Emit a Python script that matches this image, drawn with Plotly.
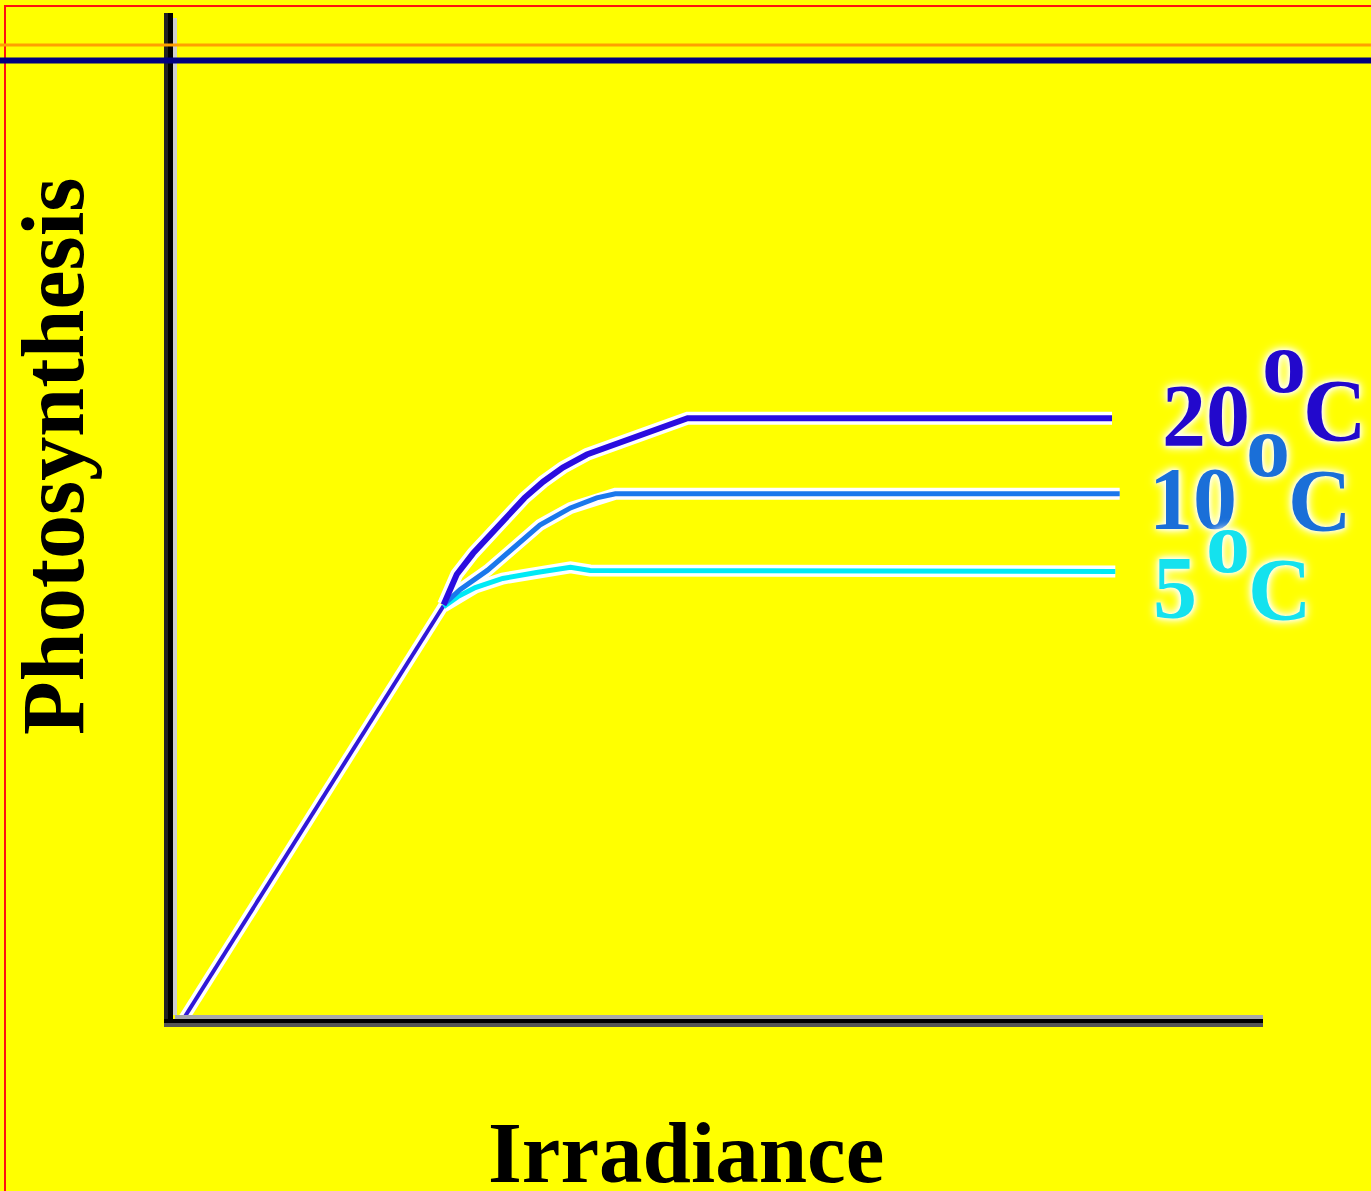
import plotly.graph_objects as go

# ---------------- data (arbitrary units, axes 0-100) ----------------
irr_linear = [1.2, 25.1]
ps_linear = [0.0, 41.2]

irr_20 = [25.1, 26.3, 27.8, 29.3, 30.9, 32.5, 34.2, 36.0, 38.2, 40.0, 43.1, 45.3, 47.4, 86.2]
ps_20 = [41.3, 44.3, 46.4, 48.2, 50.1, 51.9, 53.5, 54.9, 56.2, 56.9, 58.2, 59.1, 59.8, 59.8]

irr_10 = [25.1, 26.6, 29.1, 31.8, 33.9, 36.7, 39.1, 40.8, 86.9]
ps_10 = [41.3, 42.8, 44.7, 47.2, 49.2, 50.9, 51.9, 52.3, 52.3]

irr_5 = [25.1, 26.4, 28.0, 30.5, 33.6, 36.7, 38.5, 86.5]
ps_5 = [41.1, 42.1, 43.0, 43.9, 44.5, 45.0, 44.7, 44.6]

temps = ["20", "10", "5"]
x_title = "Irradiance"
y_title = "Photosynthesis"

# ---------------- geometry ----------------
W, H = 1371, 1191
X0_PX, X_SCALE = 169, 10.94
Y0_PX, Y_SCALE = 1021, 10.08
x_range = [(0 - X0_PX) / X_SCALE, (W - X0_PX) / X_SCALE]
y_range = [(Y0_PX - H) / Y_SCALE, Y0_PX / Y_SCALE]


def dx(px):
    return (px - X0_PX) / X_SCALE


def dy(py):
    return (Y0_PX - py) / Y_SCALE


def pxp(px):
    return px / W


def pyp(py):
    return 1 - py / H


SERIF = "Liberation Serif, Times New Roman, serif"
col20, col10, col5 = "#2a0ce0", "#1a78ec", "#00eaf5"
txt20, txt10, txt5 = "#2208cc", "#1a6fd8", "#14e2ee"
col_lin = "#3018d8"

fig = go.Figure()

series = [
    (irr_5, ps_5, col5, 5),
    (irr_10, ps_10, col10, 5),
    (irr_20, ps_20, col20, 6),
]

# white halos
fig.add_trace(go.Scatter(x=irr_linear, y=ps_linear, mode="lines",
                         line=dict(color="white", width=11),
                         hoverinfo="skip", showlegend=False))
for xs, ys, c, w in series:
    fig.add_trace(go.Scatter(x=xs, y=ys, mode="lines",
                             line=dict(color="white", width=w + 7),
                             hoverinfo="skip", showlegend=False))

fig.add_trace(go.Scatter(x=irr_linear, y=ps_linear, mode="lines",
                         line=dict(color=col_lin, width=4),
                         showlegend=False))
for (xs, ys, c, w), t in zip(series, ["5", "10", "20"]):
    fig.add_trace(go.Scatter(x=xs, y=ys, mode="lines", name=t + "°C",
                             line=dict(color=c, width=w),
                             showlegend=False))

shapes = []
# axes
shapes.append(dict(type="line", xref="x", yref="y", x0=dx(175), x1=dx(175), y0=dy(1015), y1=dy(18),
                   line=dict(color="#cfcfcf", width=4)))
shapes.append(dict(type="line", xref="x", yref="y", x0=dx(166), x1=dx(166), y0=dy(1027), y1=dy(13),
                   line=dict(color="#222222", width=4)))
shapes.append(dict(type="line", xref="x", yref="y", x0=dx(170.5), x1=dx(170.5), y0=dy(1027), y1=dy(13),
                   line=dict(color="#000000", width=5)))
shapes.append(dict(type="line", xref="x", yref="y", x0=dx(175), x1=dx(1263), y0=dy(1017), y1=dy(1017),
                   line=dict(color="#a8a8a8", width=4)))
shapes.append(dict(type="line", xref="x", yref="y", x0=dx(164), x1=dx(1263), y0=dy(1021), y1=dy(1021),
                   line=dict(color="#000000", width=4)))
shapes.append(dict(type="line", xref="x", yref="y", x0=dx(164), x1=dx(1263), y0=dy(1025), y1=dy(1025),
                   line=dict(color="#555555", width=4)))

# frame decorations (drawn over the axis, as in the original)
shapes.append(dict(type="rect", xref="paper", yref="paper",
                   x0=pxp(5), x1=pxp(W + 5), y0=pyp(H + 5), y1=pyp(6),
                   line=dict(color="#ff1010", width=2), fillcolor="rgba(0,0,0,0)", layer="above"))
shapes.append(dict(type="line", xref="paper", yref="paper", x0=0, x1=1, y0=pyp(45), y1=pyp(45),
                   line=dict(color="#ffa000", width=3), layer="above"))
shapes.append(dict(type="line", xref="paper", yref="paper", x0=0, x1=1, y0=pyp(60.5), y1=pyp(60.5),
                   line=dict(color="#000080", width=6), layer="above"))

annotations = []
FS = 88
halo = "0px 0px 4px #ffffff, 0px 0px 8px #ffffff, 0px 0px 12px #ffffff"


def piece(text, origin_px, baseline_py, color, size=FS, shadow=halo):
    annotations.append(dict(
        text=text, xref="paper", yref="paper",
        x=pxp(origin_px), y=pyp(baseline_py - 0.3375 * size),
        xanchor="left", yanchor="middle", showarrow=False, borderpad=0,
        font=dict(family=SERIF, size=size, color=color, weight="bold", shadow=shadow)))


labels = [
    (temps[0], txt20, [(1161, 445), (1261, 392), (1302, 440)]),
    (temps[1], txt10, [(1148, 528), (1245, 476), (1287, 530)]),
    (temps[2], txt5, [(1152, 617), (1205, 572), (1247, 619)]),
]
for num, color, pos in labels:
    for txt, (ox, by) in zip([num, "o", "C"], pos):
        piece(txt, ox, by, color)

# axis titles
annotations.append(dict(text=y_title, xref="paper", yref="paper",
                        x=pxp(54), y=pyp(457), xanchor="center", yanchor="middle",
                        textangle=-90, showarrow=False, borderpad=0,
                        font=dict(family=SERIF, size=88, color="#000000", weight="bold")))
annotations.append(dict(text=x_title, xref="paper", yref="paper",
                        x=pxp(686), y=pyp(1182 - 0.3375 * 87), xanchor="center", yanchor="middle",
                        showarrow=False, borderpad=0,
                        font=dict(family=SERIF, size=87, color="#000000", weight="bold")))

fig.update_layout(
    width=W, height=H,
    margin=dict(l=0, r=0, t=0, b=0),
    paper_bgcolor="#ffff00", plot_bgcolor="#ffff00",
    xaxis=dict(range=x_range, visible=False, fixedrange=True),
    yaxis=dict(range=y_range, visible=False, fixedrange=True),
    shapes=shapes, annotations=annotations,
    showlegend=False,
)

fig.write_html("out.html",
               config={"displayModeBar": False, "staticPlot": True},
               post_script="document.body.style.margin='0px';document.body.style.padding='0px';"
                           "document.documentElement.style.overflow='hidden';")
